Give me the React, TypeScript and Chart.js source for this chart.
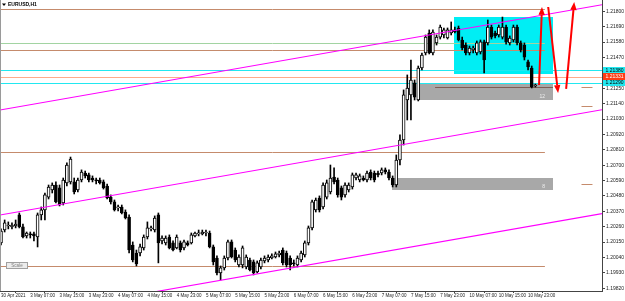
import React, { useEffect, useRef } from 'react';
import { Chart, registerables } from 'chart.js';

Chart.register(...registerables);

// ---- Candle data (EURUSD H1) ----
const OPEN = [
  1.20144, 1.20236, 1.20265, 1.20258, 1.20265, 1.20344, 1.20258, 1.20194, 1.20208, 1.20208,
  1.20186, 1.20344, 1.20380, 1.20471, 1.20522, 1.20558, 1.20537, 1.20430, 1.20573, 1.20580,
  1.20580, 1.20522, 1.20594, 1.20644, 1.20630, 1.20608, 1.20594, 1.20594, 1.20580, 1.20551,
  1.20471, 1.20437, 1.20394, 1.20401, 1.20365, 1.20329, 1.20129, 1.20072, 1.20072, 1.20108,
  1.20186, 1.20244, 1.20236, 1.20344, 1.20158, 1.20144, 1.20186, 1.20144, 1.20108, 1.20144,
  1.20108, 1.20144, 1.20144, 1.20194, 1.20208, 1.20208, 1.20215, 1.20215, 1.20115, 1.20036,
  1.19929, 1.19965, 1.20036, 1.20151, 1.20093, 1.19986, 1.19986, 1.19972, 1.20022, 1.20008,
  1.19936, 1.19972, 1.20015, 1.20022, 1.20036, 1.20043, 1.20058, 1.20093, 1.20072, 1.20036,
  1.20001, 1.19986, 1.20022, 1.20058, 1.20144, 1.20251, 1.20380, 1.20465, 1.20401, 1.20471,
  1.20508, 1.20615, 1.20594, 1.20537, 1.20487, 1.20522, 1.20544, 1.20608, 1.20594, 1.20608,
  1.20594, 1.20651, 1.20644, 1.20644, 1.20644, 1.20666, 1.20651, 1.20608, 1.20558, 1.20737,
  1.20880, 1.21166, 1.21202, 1.21288, 1.21166, 1.21395, 1.21502, 1.21645, 1.21502, 1.21574,
  1.21616, 1.21631, 1.21609, 1.21645, 1.21667, 1.21681, 1.21595, 1.21559, 1.21502, 1.21524,
  1.21502, 1.21509, 1.21581, 1.21574, 1.21688, 1.21645, 1.21631, 1.21616, 1.21688, 1.21574,
  1.21595, 1.21688, 1.21574, 1.21559, 1.21438, 1.21395, 1.21266,
];
const HIGH = [
  1.20244, 1.20308, 1.20294, 1.20287, 1.20308, 1.20358, 1.20279, 1.20222, 1.20222, 1.20222,
  1.20358, 1.20401, 1.20501, 1.20558, 1.20573, 1.20580, 1.20558, 1.20608, 1.20716, 1.20758,
  1.20608, 1.20608, 1.20666, 1.20658, 1.20644, 1.20623, 1.20608, 1.20608, 1.20594, 1.20565,
  1.20487, 1.20451, 1.20415, 1.20415, 1.20380, 1.20344, 1.20151, 1.20093, 1.20136, 1.20201,
  1.20294, 1.20265, 1.20337, 1.20358, 1.20194, 1.20194, 1.20201, 1.20158, 1.20201, 1.20158,
  1.20165, 1.20158, 1.20215, 1.20222, 1.20236, 1.20236, 1.20236, 1.20229, 1.20129, 1.20051,
  1.19979, 1.20051, 1.20165, 1.20165, 1.20108, 1.20058, 1.20122, 1.20058, 1.20036, 1.20022,
  1.20015, 1.20036, 1.20051, 1.20058, 1.20065, 1.20079, 1.20086, 1.20108, 1.20086, 1.20051,
  1.20022, 1.20051, 1.20086, 1.20158, 1.20265, 1.20451, 1.20465, 1.20480, 1.20573, 1.20594,
  1.20701, 1.20680, 1.20608, 1.20551, 1.20573, 1.20573, 1.20644, 1.20644, 1.20637, 1.20623,
  1.20658, 1.20666, 1.20658, 1.20658, 1.20680, 1.20680, 1.20666, 1.20623, 1.20773, 1.20916,
  1.21238, 1.21345, 1.21452, 1.21309, 1.21409, 1.21502, 1.21631, 1.21667, 1.21667, 1.21631,
  1.21702, 1.21681, 1.21681, 1.21724, 1.21688, 1.21695, 1.21616, 1.21574, 1.21552, 1.21552,
  1.21588, 1.21595, 1.21595, 1.21738, 1.21702, 1.21659, 1.21702, 1.21759, 1.21702, 1.21624,
  1.21702, 1.21702, 1.21588, 1.21574, 1.21452, 1.21409, 1.21280,
];
const LOW = [
  1.20129, 1.20222, 1.20244, 1.20244, 1.20251, 1.20251, 1.20179, 1.20179, 1.20179, 1.20158,
  1.20115, 1.20308, 1.20308, 1.20458, 1.20501, 1.20430, 1.20408, 1.20415, 1.20551, 1.20565,
  1.20494, 1.20508, 1.20580, 1.20608, 1.20580, 1.20580, 1.20565, 1.20565, 1.20529, 1.20458,
  1.20422, 1.20372, 1.20372, 1.20351, 1.20315, 1.20072, 1.20008, 1.19979, 1.20051, 1.20093,
  1.20172, 1.20229, 1.20222, 1.20001, 1.20136, 1.20129, 1.20101, 1.20086, 1.20101, 1.20079,
  1.20093, 1.20122, 1.20136, 1.20186, 1.20194, 1.20201, 1.20194, 1.20108, 1.19986, 1.19915,
  1.19879, 1.19950, 1.20022, 1.20036, 1.20008, 1.19972, 1.19965, 1.19958, 1.19943, 1.19915,
  1.19929, 1.19958, 1.20001, 1.20008, 1.20029, 1.20036, 1.20043, 1.19986, 1.19972, 1.19950,
  1.19979, 1.19972, 1.20008, 1.20043, 1.20129, 1.20236, 1.20365, 1.20365, 1.20387, 1.20458,
  1.20494, 1.20565, 1.20471, 1.20451, 1.20471, 1.20508, 1.20529, 1.20594, 1.20580, 1.20587,
  1.20580, 1.20594, 1.20580, 1.20615, 1.20630, 1.20637, 1.20594, 1.20544, 1.20544, 1.20701,
  1.20844, 1.21023, 1.21023, 1.21166, 1.21159, 1.21381, 1.21488, 1.21495, 1.21488, 1.21559,
  1.21602, 1.21609, 1.21602, 1.21631, 1.21645, 1.21588, 1.21524, 1.21488, 1.21488, 1.21502,
  1.21488, 1.21495, 1.21359, 1.21559, 1.21602, 1.21609, 1.21616, 1.21602, 1.21566, 1.21559,
  1.21581, 1.21559, 1.21509, 1.21452, 1.21381, 1.21252, 1.21259,
];
const CLOSE = [
  1.20229, 1.20287, 1.20272, 1.20272, 1.20279, 1.20258, 1.20186, 1.20215, 1.20201, 1.20194,
  1.20344, 1.20380, 1.20487, 1.20544, 1.20558, 1.20437, 1.20415, 1.20594, 1.20701, 1.20744,
  1.20508, 1.20594, 1.20651, 1.20623, 1.20594, 1.20594, 1.20587, 1.20573, 1.20537, 1.20465,
  1.20437, 1.20380, 1.20401, 1.20358, 1.20322, 1.20093, 1.20022, 1.19993, 1.20115, 1.20186,
  1.20251, 1.20251, 1.20322, 1.20144, 1.20179, 1.20179, 1.20108, 1.20093, 1.20186, 1.20093,
  1.20151, 1.20129, 1.20201, 1.20215, 1.20215, 1.20222, 1.20222, 1.20115, 1.20008, 1.19929,
  1.19965, 1.20036, 1.20151, 1.20043, 1.20022, 1.20043, 1.20108, 1.20043, 1.19950, 1.19929,
  1.20001, 1.20022, 1.20036, 1.20043, 1.20051, 1.20065, 1.20072, 1.20001, 1.19986, 1.19986,
  1.19993, 1.20036, 1.20072, 1.20144, 1.20251, 1.20437, 1.20451, 1.20380, 1.20558, 1.20573,
  1.20608, 1.20580, 1.20487, 1.20471, 1.20558, 1.20558, 1.20630, 1.20630, 1.20623, 1.20594,
  1.20644, 1.20608, 1.20594, 1.20630, 1.20666, 1.20651, 1.20608, 1.20558, 1.20737, 1.20880,
  1.21202, 1.21252, 1.21309, 1.21187, 1.21395, 1.21488, 1.21616, 1.21502, 1.21652, 1.21616,
  1.21688, 1.21667, 1.21667, 1.21667, 1.21652, 1.21595, 1.21538, 1.21502, 1.21538, 1.21538,
  1.21574, 1.21581, 1.21452, 1.21688, 1.21616, 1.21624, 1.21688, 1.21688, 1.21581, 1.21609,
  1.21688, 1.21574, 1.21524, 1.21473, 1.21402, 1.21259, 1.21273,
];

// ---- Axis labels ----
const TIME_LABELS = [
  '30 Apr 2021', '3 May 07:00', '3 May 15:00', '3 May 23:00', '4 May 07:00', '4 May 15:00',
  '4 May 23:00', '5 May 07:00', '5 May 15:00', '5 May 23:00', '6 May 07:00', '6 May 15:00',
  '6 May 23:00', '7 May 07:00', '7 May 15:00', '7 May 23:00', '10 May 07:00', '10 May 15:00',
  '10 May 23:00',
];
const BARS_PER_LABEL = 8;
const PRICE_TICKS = [
  1.1982, 1.1993, 1.2004, 1.2015, 1.2026, 1.2037, 1.2048, 1.2059, 1.207, 1.2081,
  1.2092, 1.2103, 1.2114, 1.2125, 1.2136, 1.2147, 1.2158, 1.2169, 1.218,
];

// ---- Drawn objects (bar index / price) ----
const BROWN_LEVELS = [1.21817, 1.21524, 1.20794, 1.19979];
const GREEN_LEVELS = [1.21574];
const LEVEL_END_BAR = 148.6;
const CYAN_LEVELS = [1.2138, 1.2129];
const PRICE_LEVEL = 1.21331;
const SIDE_MARK_LEVELS = [1.21259, 1.21123, 1.20565];
const SIDE_MARK_BARS = [158.6, 161.6];

const CHANNEL_BARS = [0, 160];
const CHANNEL_UPPER = [1.21096, 1.21828];
const CHANNEL_MIDDLE = [1.20345, 1.21077];
const CHANNEL_LOWER = [1.19602, 1.20334];

const CYAN_ZONE_BARS = [123.8, 150.8];
const CYAN_ZONE_PRICES = [1.21352, 1.21759];
const GRAY_ZONE_A_BARS = [114.5, 150.8];
const GRAY_ZONE_A_PRICES = [1.21166, 1.21288];
const GRAY_ZONE_A_TEXT = '12';
const GRAY_ZONE_B_BARS = [106.8, 150.8];
const GRAY_ZONE_B_PRICES = [1.20522, 1.20608];
const GRAY_ZONE_B_TEXT = '8';
const ZONE_LINE_BARS = [118.6, 150.8];
const ZONE_LINE_PRICE = 1.21259;

const ARROW_BARS = [[147.0, 147.8], [149.5, 152.2], [154.4, 156.6]];
const ARROW_PRICES = [[1.21273, 1.21831], [1.21831, 1.21216], [1.21245, 1.21867]];

const SYMBOL_TITLE = 'EURUSD,H1';
const FONT = '"Liberation Sans", Arial, sans-serif';

const overlay = {
  id: 'overlay',
  beforeDraw(chart: any) {
    const { ctx, width, height } = chart;
    ctx.save();
    ctx.fillStyle = '#ffffff';
    ctx.fillRect(0, 0, width, height);
    ctx.restore();
  },
  beforeDatasetsDraw(chart: any) {
    const { ctx, chartArea: a, scales } = chart;
    const xs = scales.x, ys = scales.y;
    const X = (v: number) => xs.getPixelForValue(v);
    const Y = (v: number) => ys.getPixelForValue(v);
    ctx.save();
    ctx.beginPath();
    ctx.rect(a.left, a.top, a.right - a.left, a.bottom - a.top);
    ctx.clip();
    const zone = (bars: number[], prices: number[], color: string) => {
      const x1 = X(bars[0]), x2 = X(bars[1]);
      const y1 = Y(prices[1]), y2 = Y(prices[0]);
      ctx.fillStyle = color;
      ctx.fillRect(Math.round(x1), Math.round(y1), Math.round(x2 - x1), Math.round(y2 - y1));
    };
    zone(CYAN_ZONE_BARS, CYAN_ZONE_PRICES, '#00eef4');
    zone(GRAY_ZONE_A_BARS, GRAY_ZONE_A_PRICES, '#a8a8a8');
    zone(GRAY_ZONE_B_BARS, GRAY_ZONE_B_PRICES, '#a8a8a8');

    const hline = (price: number, x1: number, x2: number, color: string) => {
      const y = Math.round(Y(price)) + 0.5;
      ctx.strokeStyle = color;
      ctx.lineWidth = 1;
      ctx.beginPath();
      ctx.moveTo(x1, y);
      ctx.lineTo(x2, y);
      ctx.stroke();
    };
    const endX = X(LEVEL_END_BAR);
    BROWN_LEVELS.forEach((p) => hline(p, a.left, endX, '#c58b6c'));
    GREEN_LEVELS.forEach((p) => hline(p, a.left, endX, '#a2d4a2'));
    CYAN_LEVELS.forEach((p) => hline(p, a.left, a.right, '#22e8f0'));
    hline(PRICE_LEVEL, a.left, a.right, '#ffab8a');
    hline(ZONE_LINE_PRICE, X(ZONE_LINE_BARS[0]), X(ZONE_LINE_BARS[1]), '#7d5e54');
    SIDE_MARK_LEVELS.forEach((p) => hline(p, X(SIDE_MARK_BARS[0]), X(SIDE_MARK_BARS[1]), '#c58b6c'));
    ctx.restore();
  },
  afterDatasetsDraw(chart: any) {
    const { ctx, chartArea: a, scales } = chart;
    const xs = scales.x, ys = scales.y;
    const X = (v: number) => xs.getPixelForValue(v);
    const Y = (v: number) => ys.getPixelForValue(v);
    ctx.save();
    ctx.beginPath();
    ctx.rect(a.left, a.top, a.right - a.left, a.bottom - a.top);
    ctx.clip();

    // zone labels
    ctx.font = `5px ${FONT}`;
    ctx.fillStyle = '#eeeeee';
    ctx.textAlign = 'right';
    ctx.textBaseline = 'bottom';
    ctx.fillText(GRAY_ZONE_A_TEXT, X(GRAY_ZONE_A_BARS[1]) - 8, Y(GRAY_ZONE_A_PRICES[0]) - 1);
    ctx.fillText(GRAY_ZONE_B_TEXT, X(GRAY_ZONE_B_BARS[1]) - 8, Y(GRAY_ZONE_B_PRICES[0]) - 1);

    // channel lines
    const channel = (prices: number[]) => {
      const slope = (prices[1] - prices[0]) / (CHANNEL_BARS[1] - CHANNEL_BARS[0]);
      const at = (b: number) => prices[0] + slope * (b - CHANNEL_BARS[0]);
      ctx.strokeStyle = '#ff00ff';
      ctx.lineWidth = 1.1;
      ctx.beginPath();
      ctx.moveTo(X(xs.min), Y(at(xs.min)));
      ctx.lineTo(X(xs.max), Y(at(xs.max)));
      ctx.stroke();
    };
    channel(CHANNEL_UPPER);
    channel(CHANNEL_MIDDLE);
    channel(CHANNEL_LOWER);

    // arrows
    ARROW_BARS.forEach((bars, k) => {
      const x1 = X(bars[0]), y1 = Y(ARROW_PRICES[k][0]);
      const x2 = X(bars[1]), y2 = Y(ARROW_PRICES[k][1]);
      const ang = Math.atan2(y2 - y1, x2 - x1);
      const hl = 8, hw = 3.2;
      const bx = x2 - hl * Math.cos(ang), by = y2 - hl * Math.sin(ang);
      ctx.strokeStyle = '#ff0000';
      ctx.fillStyle = '#ff0000';
      ctx.lineWidth = 2;
      ctx.beginPath();
      ctx.moveTo(x1, y1);
      ctx.lineTo(bx, by);
      ctx.stroke();
      ctx.beginPath();
      ctx.moveTo(x2, y2);
      ctx.lineTo(bx + hw * Math.sin(ang), by - hw * Math.cos(ang));
      ctx.lineTo(bx - hw * Math.sin(ang), by + hw * Math.cos(ang));
      ctx.closePath();
      ctx.fill();
    });
    ctx.restore();
  },
  afterDraw(chart: any) {
    const { ctx, chartArea: a, scales, width } = chart;
    const ys = scales.y;
    ctx.save();
    // price tags on the axis
    const tag = (price: number, bg: string, fg: string) => {
      const y = ys.getPixelForValue(price);
      ctx.fillStyle = bg;
      ctx.fillRect(a.right + 1, Math.round(y - 3.5), width - a.right - 1, 7);
      ctx.fillStyle = fg;
      ctx.font = `5px ${FONT}`;
      ctx.textAlign = 'left';
      ctx.textBaseline = 'middle';
      ctx.fillText(price.toFixed(5), a.right + 3.5, Math.round(y - 3.5) + 3.8);
    };
    CYAN_LEVELS.forEach((p) => tag(p, '#22e8f0', '#000000'));
    tag(PRICE_LEVEL, '#ff3c14', '#ffffff');

    // left frame
    ctx.strokeStyle = '#9a9a9a';
    ctx.lineWidth = 1;
    ctx.beginPath();
    ctx.moveTo(0.5, 0);
    ctx.lineTo(0.5, a.bottom);
    ctx.stroke();

    // title
    ctx.fillStyle = '#000000';
    ctx.beginPath();
    ctx.moveTo(2, 3.5);
    ctx.lineTo(6, 3.5);
    ctx.lineTo(4, 6);
    ctx.closePath();
    ctx.fill();
    ctx.font = `bold 5px ${FONT}`;
    ctx.textAlign = 'left';
    ctx.textBaseline = 'middle';
    ctx.fillText(SYMBOL_TITLE, 8, 5);

    // Scale button
    ctx.fillStyle = '#ececec';
    ctx.fillRect(6, 262, 22, 7);
    ctx.strokeStyle = '#a0a0a0';
    ctx.strokeRect(6.5, 262.5, 21, 6);
    ctx.fillStyle = '#808080';
    ctx.font = `4.5px ${FONT}`;
    ctx.textAlign = 'center';
    ctx.fillText('Scale', 17, 265.7);
    ctx.restore();
  },
};

export default function App() {
  const ref = useRef<HTMLCanvasElement>(null);
  useEffect(() => {
    document.body.style.margin = '0';
    const canvas = ref.current;
    if (!canvas) return;
    const bull = OPEN.map((o, i) => CLOSE[i] >= o);
    const chart = new Chart(canvas, {
      type: 'bar',
      data: {
        datasets: [
          {
            label: 'body',
            data: OPEN.map((o, i) => ({ x: i, y: [o, CLOSE[i]] })) as any,
            backgroundColor: bull.map((b) => (b ? '#ffffff' : '#000000')),
            borderColor: '#000000',
            borderWidth: 1,
            borderSkipped: false,
            barThickness: 3,
            minBarLength: 1,
            grouped: false,
            order: 0,
          } as any,
          {
            label: 'wick',
            data: HIGH.map((h, i) => ({ x: i, y: [LOW[i], h] })) as any,
            backgroundColor: '#000000',
            borderWidth: 0,
            barThickness: 1,
            grouped: false,
            order: 1,
          } as any,
        ],
      },
      options: {
        responsive: false,
        maintainAspectRatio: false,
        animation: false,
        devicePixelRatio: 1,
        layout: { padding: 0 },
        plugins: { legend: { display: false }, tooltip: { enabled: false } },
        scales: {
          x: {
            type: 'linear',
            min: -0.27,
            max: 164.2,
            offset: false,
            afterBuildTicks: (s: any) => {
              s.ticks = TIME_LABELS.map((_, k) => ({ value: k * BARS_PER_LABEL }));
            },
            afterFit: (s: any) => {
              s.height = 10;
              s.paddingLeft = 0;
              s.paddingRight = 0;
            },
            ticks: {
              callback: (v: any) => TIME_LABELS[Math.round(Number(v) / BARS_PER_LABEL)],
              align: 'start',
              maxRotation: 0,
              minRotation: 0,
              autoSkip: false,
              padding: 0,
              color: '#222222',
              font: { size: 4.5, family: FONT },
            },
            grid: { drawOnChartArea: false, drawTicks: true, tickLength: 2, color: '#444444' },
            border: { display: true, color: '#444444' },
          } as any,
          y: {
            type: 'linear',
            position: 'right',
            min: 1.198,
            max: 1.21881,
            afterBuildTicks: (s: any) => {
              s.ticks = PRICE_TICKS.map((v) => ({ value: v }));
            },
            afterFit: (s: any) => {
              s.width = 23;
              s.paddingTop = 0;
              s.paddingBottom = 0;
            },
            ticks: {
              callback: (v: any) => Number(v).toFixed(5),
              autoSkip: false,
              padding: 1,
              color: '#222222',
              font: { size: 5, family: FONT },
            },
            grid: { drawOnChartArea: false, drawTicks: true, tickLength: 3, color: '#444444' },
            border: { display: true, color: '#444444' },
          } as any,
        },
      },
      plugins: [overlay],
    });
    return () => chart.destroy();
  }, []);
  return (
    <div style={{ width: 625, height: 301, background: '#ffffff' }}>
      <canvas ref={ref} width={625} height={301} style={{ display: 'block' }} />
    </div>
  );
}
